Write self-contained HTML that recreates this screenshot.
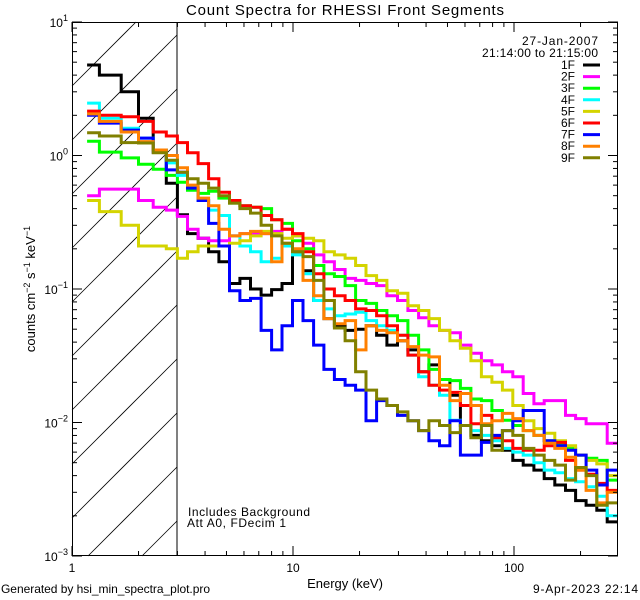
<!DOCTYPE html>
<html><head><meta charset="utf-8">
<style>
html,body{margin:0;padding:0;background:#fff;width:640px;height:600px;overflow:hidden;}
svg{display:block;font-family:"Liberation Sans",sans-serif;overflow:hidden;}
</style></head>
<body>
<svg id="chart" width="640" height="600" viewBox="0 0 640 600" xmlns="http://www.w3.org/2000/svg">
  <rect width="640" height="600" fill="#fff"/>
  <defs>
    <clipPath id="plotClip"><rect x="72" y="22" width="546" height="534"/></clipPath>
  </defs>
  <text x="345" y="15" font-size="15" text-anchor="middle" textLength="318">Count Spectra for RHESSI Front Segments</text>
  <g id="hatch"></g>
  <line x1="177" y1="22" x2="177" y2="556" stroke="#000" stroke-width="1"/>
  <g id="series" clip-path="url(#plotClip)"></g>
  <rect x="72.5" y="22.5" width="545" height="533" fill="none" stroke="#000" stroke-width="1"/>
  <g id="axes"></g>
  <text x="345" y="588" font-size="13" text-anchor="middle">Energy (keV)</text>
  <text transform="translate(35,289) rotate(-90)" font-size="13" text-anchor="middle">counts cm<tspan baseline-shift="super" font-size="9">−2</tspan> s<tspan baseline-shift="super" font-size="9">−1</tspan> keV<tspan baseline-shift="super" font-size="9">−1</tspan></text>
  <g id="legend">
    <text x="598" y="45" font-size="12" text-anchor="end" textLength="76">27-Jan-2007</text>
    <text x="598" y="57" font-size="12" text-anchor="end" textLength="116">21:14:00 to 21:15:00</text>
  </g>
  <text x="188" y="516" font-size="12" textLength="122">Includes Background</text>
  <text x="187" y="527" font-size="12" textLength="99">Att A0, FDecim 1</text>
  <text x="1" y="593" font-size="12" textLength="209">Generated by hsi_min_spectra_plot.pro</text>
  <text x="638" y="593" font-size="12" text-anchor="end" textLength="105">9-Apr-2023 22:14</text>
</svg>
<script>
const energyEdges=[1.17,1.33,1.67,2.0,2.33,2.67,3.0,3.33,3.72,4.15,4.62,5.16,5.75,6.42,7.17,8.0,8.92,9.95,11.1,12.4,13.8,15.4,17.2,19.2,21.4,23.9,26.6,29.7,33.1,37.0,41.2,46.0,51.3,57.2,63.8,71.2,79.4,88.6,98.8,110,123,137,153,171,190,212,237,264,295];
const seriesNames=["1F","2F","3F","4F","5F","6F","7F","8F","9F"];
const seriesColors=["#000000","#ff00ff","#00ff00","#00ffff","#d4d400","#ff0000","#0000ff","#ff8000","#808000"];
const s1F=[4.76,4.0,3.0,1.9,1.1,0.62,0.36,0.26,0.24,0.19,0.16,0.11,0.12,0.10,0.09,0.099,0.11,0.19,0.137,0.082,0.06,0.053,0.049,0.05,0.053,0.045,0.038,0.041,0.035,0.024,0.027,0.021,0.016,0.0095,0.008,0.0073,0.0067,0.0062,0.0052,0.0048,0.0044,0.0038,0.0034,0.0031,0.0026,0.0024,0.0022,0.0018];
const s2F=[0.50,0.56,0.56,0.46,0.41,0.39,0.35,0.28,0.24,0.23,0.23,0.25,0.26,0.26,0.26,0.27,0.28,0.25,0.22,0.18,0.16,0.14,0.12,0.116,0.11,0.106,0.089,0.082,0.069,0.061,0.053,0.049,0.047,0.038,0.033,0.029,0.027,0.024,0.022,0.0165,0.0138,0.0146,0.0146,0.0113,0.0107,0.0098,0.0098,0.0070];
const s3F=[1.28,1.06,0.96,0.86,0.79,0.71,0.63,0.55,0.52,0.54,0.48,0.44,0.42,0.41,0.40,0.33,0.31,0.23,0.20,0.15,0.13,0.124,0.106,0.082,0.078,0.069,0.063,0.058,0.045,0.035,0.025,0.021,0.0206,0.018,0.015,0.0146,0.0123,0.0104,0.0095,0.0087,0.008,0.0073,0.007,0.0064,0.0057,0.0054,0.0052,0.0037];
const s4F=[2.47,1.9,1.6,1.35,1.1,0.88,0.71,0.58,0.46,0.39,0.355,0.25,0.21,0.19,0.16,0.17,0.21,0.18,0.13,0.082,0.071,0.063,0.065,0.067,0.058,0.053,0.049,0.045,0.032,0.022,0.019,0.016,0.0104,0.0095,0.0087,0.008,0.0073,0.0064,0.006,0.0057,0.005,0.0044,0.0042,0.0038,0.0036,0.0033,0.0028,0.002];
const s5F=[0.46,0.38,0.30,0.21,0.21,0.20,0.17,0.19,0.21,0.21,0.21,0.22,0.23,0.25,0.27,0.26,0.24,0.25,0.24,0.23,0.19,0.18,0.17,0.15,0.126,0.116,0.097,0.093,0.075,0.069,0.060,0.049,0.041,0.036,0.029,0.022,0.020,0.0175,0.0134,0.0103,0.009,0.0083,0.0073,0.0067,0.0057,0.0052,0.0049,0.004];
const s6F=[2.15,2.0,1.95,1.8,1.5,1.4,1.25,1.05,0.87,0.67,0.53,0.46,0.42,0.41,0.355,0.33,0.28,0.26,0.19,0.13,0.10,0.089,0.082,0.071,0.069,0.063,0.053,0.045,0.032,0.024,0.019,0.0175,0.0168,0.0134,0.0098,0.0113,0.0077,0.0073,0.0064,0.0062,0.0062,0.0067,0.0071,0.0052,0.0044,0.0041,0.0035,0.0031];
const s7F=[2.0,1.75,1.55,1.35,1.06,0.78,0.75,0.57,0.46,0.31,0.21,0.097,0.082,0.085,0.049,0.035,0.053,0.082,0.058,0.038,0.025,0.021,0.019,0.0175,0.0103,0.0146,0.0134,0.0113,0.0103,0.0087,0.0073,0.0067,0.0103,0.0057,0.0057,0.0071,0.008,0.0087,0.0103,0.0123,0.0123,0.0073,0.0067,0.0062,0.0057,0.0044,0.0034,0.0044];
const s8F=[2.05,1.8,1.5,1.27,1.1,1.0,0.81,0.60,0.48,0.42,0.28,0.25,0.26,0.27,0.26,0.16,0.22,0.20,0.116,0.089,0.06,0.055,0.058,0.035,0.053,0.049,0.047,0.041,0.037,0.032,0.031,0.019,0.0146,0.0165,0.0134,0.0098,0.0103,0.0117,0.0107,0.0087,0.008,0.007,0.0064,0.0055,0.0044,0.0031,0.0025,0.003];
const s9F=[1.48,1.4,1.25,1.24,1.05,0.92,0.75,0.67,0.62,0.57,0.50,0.44,0.40,0.37,0.30,0.25,0.22,0.19,0.175,0.116,0.082,0.051,0.041,0.024,0.0175,0.015,0.0134,0.012,0.0103,0.0087,0.0103,0.0095,0.0084,0.0095,0.0077,0.0095,0.0062,0.0087,0.008,0.0064,0.0057,0.0052,0.0048,0.0037,0.0046,0.0040,0.0024,0.0025];
const seriesValues=[s1F,s2F,s3F,s4F,s5F,s6F,s7F,s8F,s9F];
const xMajorTicks=[1,10,100];
const xTickLabels=["1","10","100"];
const yDecades=[1,0,-1,-2,-3];

const NS="http://www.w3.org/2000/svg";
const PL=72,PR=618,PT=22,PB=556;
const XMIN=1,XMAX=295.5,YMAX=10,YMIN=0.001;
function xScale(e){return PL+(PR-PL)*(Math.log10(e)-Math.log10(XMIN))/(Math.log10(XMAX)-Math.log10(XMIN));}
function yScale(v){return PT+(PB-PT)*(Math.log10(YMAX)-Math.log10(v))/(Math.log10(YMAX)-Math.log10(YMIN));}
function mk(tag,attrs){const el=document.createElementNS(NS,tag);for(const k in attrs)el.setAttribute(k,attrs[k]);return el;}

// hatch: lines y = y0 - (x-72), clipped to [72,177]x[22,556]
const hatch=document.getElementById('hatch');
for(let k=-3;k<12;k++){
  const y0=248+54*k;
  let xa=72, xb=177;
  xa=Math.max(xa, 72+(y0-PB));
  xb=Math.min(xb, 72+(y0-PT));
  if(xb<=xa)continue;
  const ln=mk('line',{x1:xa,y1:y0-(xa-72),x2:xb,y2:y0-(xb-72),stroke:'#000','stroke-width':0.8});
  
  
  hatch.appendChild(ln);
}

const sg=document.getElementById('series');
seriesValues.forEach((vals,i)=>{
  let d='M'+xScale(energyEdges[0]).toFixed(1)+','+yScale(vals[0]).toFixed(1);
  for(let b=0;b<vals.length;b++){
    if(b>0)d+=' V'+yScale(vals[b]).toFixed(1);
    d+=' H'+xScale(energyEdges[b+1]).toFixed(1);
  }
  const p=mk('path',{d:d,fill:'none',stroke:seriesColors[i],'stroke-width':3,'stroke-linejoin':'miter'});
  
  
  sg.appendChild(p);
});

const ax=document.getElementById('axes');
for(let dec=0;dec<3;dec++){
  for(let m=1;m<10;m++){
    const e=m*Math.pow(10,dec);
    if(e>XMAX)break;
    const x=xScale(e),len=(m===1)?10:5;
    const t1=mk('line',{x1:x,y1:PB,x2:x,y2:PB-len,stroke:'#000','stroke-width':1});
    
    
    ax.appendChild(t1);
    const t2=mk('line',{x1:x,y1:PT,x2:x,y2:PT+len,stroke:'#000','stroke-width':1});
    
    
    ax.appendChild(t2);
  }
}
xMajorTicks.forEach((e,i)=>{
  const t=mk('text',{x:xScale(e),y:572,'font-size':12,'text-anchor':'middle'});
  t.textContent=xTickLabels[i];
  
  
  ax.appendChild(t);
});
for(let dec=-3;dec<=1;dec++){
  for(let m=1;m<10;m++){
    const v=m*Math.pow(10,dec);
    if(v>YMAX+1e-9)break;
    const y=yScale(v),len=(m===1)?10:5;
    const t1=mk('line',{x1:PL,y1:y,x2:PL+len,y2:y,stroke:'#000','stroke-width':1});
    
    
    ax.appendChild(t1);
    const t2=mk('line',{x1:PR,y1:y,x2:PR-len,y2:y,stroke:'#000','stroke-width':1});
    
    
    ax.appendChild(t2);
  }
}
yDecades.forEach(p=>{
  const y=yScale(Math.pow(10,p));
  const t=mk('text',{x:68,y:y+5,'font-size':12,'text-anchor':'end'});
  t.textContent='10';
  const sup=mk('tspan',{dy:-6,'font-size':9});
  sup.textContent=(p<0?'−':'')+Math.abs(p);
  t.appendChild(sup);
  
  
  ax.appendChild(t);
});

const lg=document.getElementById('legend');
seriesNames.forEach((n,i)=>{
  const y=65+i*11.6;
  const t=mk('text',{x:575,y:y+4,'font-size':12,'text-anchor':'end'});
  t.textContent=n;
  
  
  lg.appendChild(t);
  const l=mk('line',{x1:583,y1:y,x2:600,y2:y,stroke:seriesColors[i],'stroke-width':3});
  
  
  lg.appendChild(l);
});
</script>
</body></html>
